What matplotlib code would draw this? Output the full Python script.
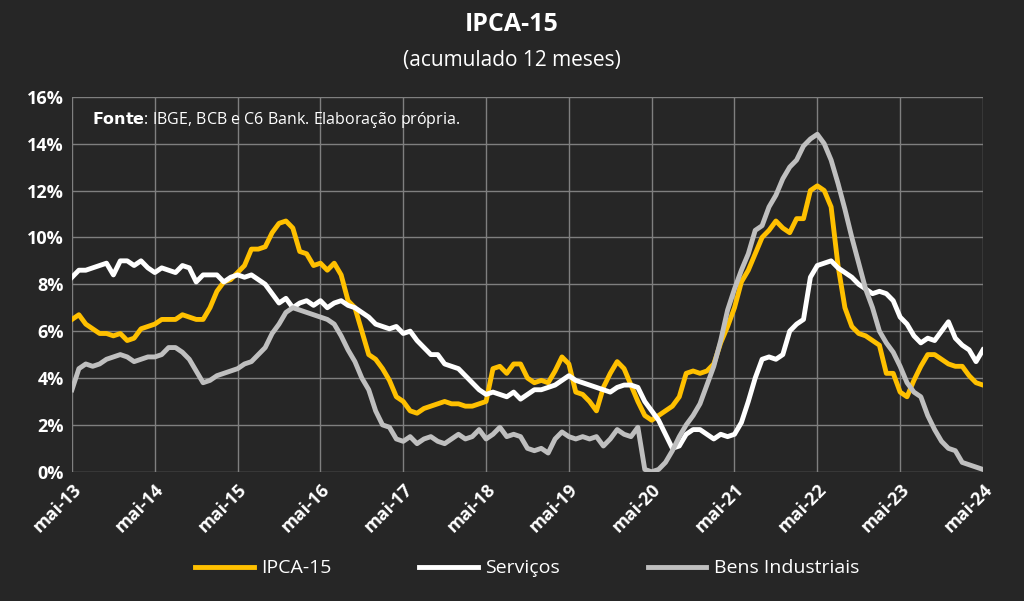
import matplotlib
matplotlib.use("Agg")
import matplotlib.pyplot as plt
import numpy as np

plt.rcParams['font.family'] = 'Open Sans'

ipca = [6.5,6.7,6.3,6.1,5.9,5.9,5.8,5.9,5.6,5.7,6.1,6.2,
 6.3,6.5,6.5,6.5,6.7,6.6,6.5,6.5,7.0,7.7,8.1,8.2,
 8.5,8.8,9.5,9.5,9.6,10.2,10.6,10.7,10.4,9.4,9.3,8.8,
 8.9,8.6,8.9,8.4,7.3,7.0,6.0,5.0,4.8,4.4,3.9,3.2,
 3.0,2.6,2.5,2.7,2.8,2.9,3.0,2.9,2.9,2.8,2.8,2.9,
 3.0,4.4,4.5,4.2,4.6,4.6,4.0,3.8,3.9,3.8,4.3,4.9,
 4.6,3.4,3.3,3.0,2.6,3.6,4.2,4.7,4.4,3.7,3.0,2.4,
 2.2,2.4,2.6,2.8,3.2,4.2,4.3,4.2,4.3,4.6,5.5,6.2,
 7.0,8.1,8.6,9.3,10.0,10.3,10.7,10.4,10.2,10.8,10.8,12.0,
 12.2,12.0,11.3,8.8,7.0,6.2,5.9,5.8,5.6,5.4,4.2,4.2,
 3.4,3.2,3.9,4.5,5.0,5.0,4.8,4.6,4.5,4.5,4.1,3.8,
 3.7]
servicos = [8.3,8.6,8.6,8.7,8.8,8.9,8.4,9.0,9.0,8.8,9.0,8.7,
 8.5,8.7,8.6,8.5,8.8,8.7,8.1,8.4,8.4,8.4,8.1,8.3,
 8.4,8.3,8.4,8.2,8.0,7.6,7.2,7.4,7.0,7.2,7.3,7.1,
 7.3,7.0,7.2,7.3,7.1,7.0,6.8,6.6,6.3,6.2,6.1,6.2,
 5.9,6.0,5.6,5.3,5.0,5.0,4.6,4.5,4.4,4.1,3.8,3.5,
 3.3,3.4,3.3,3.2,3.4,3.1,3.3,3.5,3.5,3.6,3.7,3.9,
 4.1,3.9,3.8,3.7,3.6,3.5,3.4,3.6,3.7,3.7,3.6,3.0,
 2.6,2.2,1.6,1.0,1.1,1.6,1.8,1.8,1.6,1.4,1.6,1.5,
 1.6,2.1,3.0,4.0,4.8,4.9,4.8,5.0,6.0,6.3,6.5,8.3,
 8.8,8.9,9.0,8.7,8.5,8.3,8.0,7.8,7.6,7.7,7.6,7.3,
 6.6,6.3,5.8,5.5,5.7,5.6,6.0,6.4,5.7,5.4,5.2,4.7,
 5.2]
bens = [3.5,4.4,4.6,4.5,4.6,4.8,4.9,5.0,4.9,4.7,4.8,4.9,
 4.9,5.0,5.3,5.3,5.1,4.8,4.3,3.8,3.9,4.1,4.2,4.3,
 4.4,4.6,4.7,5.0,5.3,5.9,6.3,6.8,7.0,6.9,6.8,6.7,
 6.6,6.5,6.3,5.8,5.2,4.7,4.0,3.5,2.6,2.0,1.9,1.4,
 1.3,1.5,1.2,1.4,1.5,1.3,1.2,1.4,1.6,1.4,1.5,1.8,
 1.4,1.6,1.9,1.5,1.6,1.5,1.0,0.9,1.0,0.8,1.4,1.7,
 1.5,1.4,1.5,1.4,1.5,1.1,1.4,1.8,1.6,1.5,1.9,0.1,
 0.0,0.1,0.4,0.9,1.5,2.0,2.4,2.9,3.7,4.5,5.6,6.9,
 7.8,8.6,9.3,10.3,10.5,11.3,11.8,12.5,13.0,13.3,13.9,14.2,
 14.4,14.0,13.3,12.3,11.2,10.0,8.9,7.8,7.0,6.0,5.5,5.1,
 4.5,3.8,3.4,3.2,2.4,1.8,1.3,1.0,0.9,0.4,0.3,0.2,
 0.1]
tick_labels = ['mai-%02d' % y for y in range(13, 25)]

n = len(ipca)
x = np.arange(n)
bg = '#262626'
fig = plt.figure(figsize=(10.24, 6.01), dpi=100, facecolor=bg)
ax = fig.add_axes([0.0703, 0.215, 0.8896, 0.624], facecolor=bg)
ax.plot(x, ipca, color='#FFC000', lw=3.5, label='IPCA-15', zorder=3)
ax.plot(x[:len(servicos)], servicos, color='white', lw=3.5, label='Serviços', zorder=3)
ax.plot(x[:len(bens)], bens, color='#BFBFBF', lw=3.5, label='Bens Industriais', zorder=3)
ax.set_xlim(0, n-1)
ax.set_ylim(0, 16)
ax.set_xticks(np.arange(0, n, 12))
ax.set_xticklabels(tick_labels, rotation=45, ha='right', rotation_mode='anchor', color='white', fontsize=13, fontweight='bold')
ax.set_yticks(np.arange(0, 17, 2))
ax.set_yticklabels(['%d%%' % v for v in range(0, 17, 2)], color='white', fontsize=13, fontweight='bold')
ax.grid(True, color='#7f7f7f', lw=1)
ax.set_axisbelow(True)
for s in ax.spines.values():
    s.set_visible(False)
ax.tick_params(length=0, pad=6)
fig.text(0.5, 0.96, 'IPCA-15', ha='center', va='center', color='white', fontsize=18, fontweight='bold')
fig.text(0.5, 0.9, '(acumulado 12 meses)', ha='center', va='center', color='white', fontsize=15)
ax.text(0.022, 0.965, r'$\bf{Fonte}$: IBGE, BCB e C6 Bank. Elaboração própria.', transform=ax.transAxes,
        color='white', fontsize=11.5, va='top', ha='left')
leg = fig.legend(loc='lower center', bbox_to_anchor=(0.515, 0.01), ncol=3, frameon=False,
                 fontsize=14, labelcolor='white', handlelength=3.0, handletextpad=0.4, columnspacing=4.5)
fig.savefig('out.png', dpi=100, facecolor=bg)
